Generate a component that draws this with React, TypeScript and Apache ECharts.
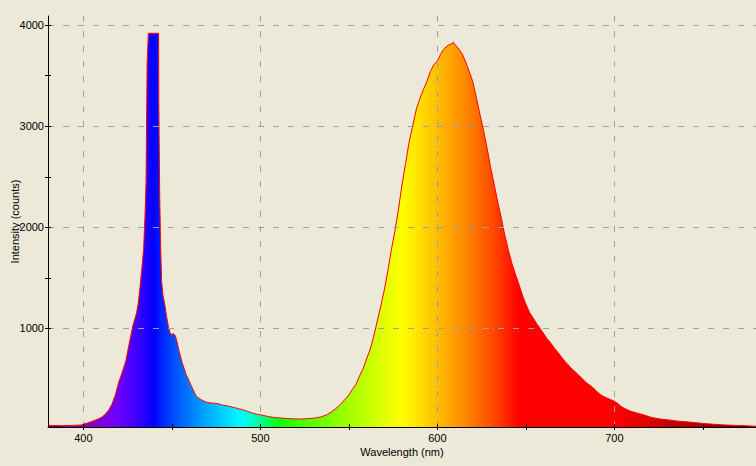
import React, { useEffect, useRef } from "react";
import * as echarts from "echarts";

const wavelengths = [
  380, 384, 388, 392, 396, 399, 400, 402, 404, 406, 408, 410, 412, 414, 416, 418, 420, 422, 424, 426, 428, 430, 431, 432, 433, 434, 434.8, 435.4, 436, 436.7,
  442.5, 442.6, 443.1, 443.6, 444.2, 445, 446, 447, 448, 449, 450, 451, 452, 453, 454, 455, 456, 457, 458, 459, 460, 461, 462, 463, 464, 466, 468, 470, 472, 474,
  476, 478, 480, 482, 484, 486, 488, 490, 492, 494, 496, 498, 500, 502, 504, 506, 508, 510, 512, 514, 516, 518, 520, 522, 524, 526, 528, 530, 532, 534,
  536, 538, 540, 542, 544, 546, 548, 550, 552, 554, 556, 558, 560, 562, 564, 566, 568, 570, 572, 574, 576, 578, 580, 582, 584, 586, 588, 590, 592, 594,
  596, 598, 600, 602, 604, 606, 608, 609, 610, 612, 614, 616, 618, 620, 622, 624, 626, 628, 630, 632, 634, 636, 638, 640, 642, 644, 646, 648, 650, 652,
  654, 656, 658, 660, 662, 664, 666, 668, 670, 672, 674, 676, 678, 680, 682, 684, 686, 688, 690, 692, 694, 696, 698, 700, 702, 704, 706, 708, 710, 712,
  714, 716, 718, 720, 722, 724, 726, 728, 730, 732, 734, 736, 738, 740, 742, 744, 746, 748, 750, 752, 754, 756, 758, 760, 762, 764, 766, 768, 770, 772,
  774, 776, 778, 780,
];

const intensities = [
  40, 40, 38, 40, 42, 45, 55, 63, 75, 88, 102, 118, 145, 185, 245, 340, 470, 570, 680, 860, 1030, 1150, 1250, 1410, 1590, 1780, 2107, 2437, 3622, 3919,
  3919, 3227, 2338, 1827, 1464, 1320, 1234, 1120, 1020, 955, 940, 948, 925, 860, 780, 715, 650, 600, 545, 510, 470, 430, 395, 355, 325, 300, 282, 268, 262, 260,
  256, 246, 236, 232, 223, 214, 204, 196, 184, 171, 160, 152, 146, 138, 130, 124, 119, 116, 113, 110, 108, 106, 105, 104, 105, 107, 108, 112, 117, 124,
  136, 150, 173, 198, 228, 262, 302, 342, 398, 445, 530, 600, 700, 790, 920, 1070, 1220, 1380, 1570, 1780, 1960, 2180, 2420, 2630, 2840, 3000, 3160, 3270, 3360, 3440,
  3540, 3610, 3645, 3720, 3770, 3800, 3815, 3830, 3805, 3765, 3715, 3635, 3540, 3440, 3285, 3120, 2965, 2790, 2600, 2430, 2260, 2100, 1930, 1780, 1650, 1540, 1440, 1330, 1240, 1160,
  1105, 1050, 1000, 950, 898, 855, 808, 765, 720, 675, 638, 600, 568, 535, 500, 465, 440, 412, 378, 346, 326, 310, 295, 280, 255, 226, 206, 190, 176, 167,
  157, 148, 137, 125, 116, 110, 104, 100, 96, 92, 87, 83, 80, 77, 74, 71, 68, 64, 60, 58, 55, 52, 50, 48, 46, 44, 42, 41, 40, 39,
  38, 36, 34, 32,
];

const xLabelValues = [400, 500, 600, 700];
const xTickValues = [400, 450, 500, 550, 600, 650, 700, 750];
const yLabelValues = [1000, 2000, 3000, 4000];
const yTickValues = [1000, 1500, 2000, 2500, 3000, 3500, 4000];

const X_MIN = 380;
const X_MAX = 780;
const Y_MIN = 25;
const Y_MAX = 4090;

const FONT = "Liberation Sans";
const BG = "#ECE9D8";

function wavelengthColor(w: number): string {
  let r = 0, g = 0, b = 0;
  if (w < 440) { r = -(w - 440) / 60; b = 1; }
  else if (w < 490) { g = (w - 440) / 50; b = 1; }
  else if (w < 510) { g = 1; b = -(w - 510) / 20; }
  else if (w < 580) { r = (w - 510) / 70; g = 1; }
  else if (w < 645) { r = 1; g = -(w - 645) / 65; }
  else { r = 1; }
  let f = 1;
  if (w < 420) f = 0.3 + (0.7 * (w - 380)) / 40;
  else if (w > 700) f = 0.3 + (0.7 * (780 - w)) / 80;
  const c = (v: number) => Math.round(255 * Math.pow(Math.max(0, v * f), 0.8));
  return `rgb(${c(r)},${c(g)},${c(b)})`;
}

function gradientStops() {
  const stops: { offset: number; color: string }[] = [];
  for (let w = X_MIN; w <= X_MAX; w += 4) {
    stops.push({ offset: (w - X_MIN) / (X_MAX - X_MIN), color: wavelengthColor(w) });
  }
  return stops;
}

export default function App() {
  const ref = useRef<HTMLDivElement>(null);

  useEffect(() => {
    document.body.style.margin = "0";
    document.body.style.background = BG;
    if (!ref.current) return;
    const chart = echarts.init(ref.current, undefined, { renderer: "svg" });

    const data = wavelengths.map((w, i) => [w, intensities[i]]);
    const labelStyle = { fontFamily: FONT, fontSize: 11, color: "#000" };
    const dashed = { color: "#A0A0A0", type: [6, 9] as any, width: 1 };
    const plain = (v: number) => String(v);

    const baseX = { type: "value", min: X_MIN, max: X_MAX, position: "bottom" };
    const baseY = { type: "value", min: Y_MIN, max: Y_MAX, position: "left" };

    const option: any = {
      animation: false,
      backgroundColor: BG,
      grid: { left: 48, right: 0, top: 16, bottom: 39, containLabel: false, outerBoundsMode: "none" },
      xAxis: [
        {
          ...baseX,
          z: 4,
          name: "Wavelength (nm)",
          nameLocation: "middle",
          nameGap: 19,
          nameMoveOverlap: false,
          nameTextStyle: labelStyle,
          axisLine: { show: true, onZero: false, lineStyle: { color: "#000", width: 1 } },
          axisTick: { show: true, customValues: xTickValues, length: 3, inside: false, lineStyle: { color: "#000" } },
          axisLabel: { show: true, customValues: xLabelValues, margin: 5, formatter: plain, ...labelStyle },
          splitLine: { show: false },
        },
        {
          ...baseX,
          z: 4,
          axisLine: { show: false, onZero: false },
          axisTick: { show: true, customValues: xTickValues, length: 3, inside: true, lineStyle: { color: "#000" } },
          axisLabel: { show: false },
          splitLine: { show: false },
        },
        {
          ...baseX,
          z: 3,
          axisLine: { show: false, onZero: false },
          axisTick: { show: false, customValues: xLabelValues },
          axisLabel: { show: false },
          splitLine: { show: true, lineStyle: dashed },
        },
      ],
      yAxis: [
        {
          ...baseY,
          z: 4,
          name: "Intensity (counts)",
          nameLocation: "middle",
          nameGap: 28,
          nameRotate: 90,
          nameMoveOverlap: false,
          nameTextStyle: labelStyle,
          axisLine: { show: true, onZero: false, lineStyle: { color: "#000", width: 1 } },
          axisTick: { show: true, customValues: yTickValues, length: 3, inside: false, lineStyle: { color: "#000" } },
          axisLabel: { show: true, customValues: yLabelValues, margin: 4, formatter: plain, ...labelStyle },
          splitLine: { show: false },
        },
        {
          ...baseY,
          z: 4,
          axisLine: { show: false, onZero: false },
          axisTick: { show: true, customValues: yTickValues, length: 3, inside: true, lineStyle: { color: "#000" } },
          axisLabel: { show: false },
          splitLine: { show: false },
        },
        {
          ...baseY,
          z: 3,
          axisLine: { show: false, onZero: false },
          axisTick: { show: false, customValues: yLabelValues },
          axisLabel: { show: false },
          splitLine: { show: true, lineStyle: dashed },
        },
      ],
      series: [
        {
          type: "line",
          xAxisIndex: 0,
          yAxisIndex: 0,
          data,
          symbol: "none",
          z: 2,
          lineStyle: { color: "#FF0000", width: 1 },
          areaStyle: {
            opacity: 1,
            color: new echarts.graphic.LinearGradient(0, 0, 1, 0, gradientStops()),
          },
        },
      ],
    };

    chart.setOption(option);
    return () => chart.dispose();
  }, []);

  return <div ref={ref} style={{ width: 756, height: 466 }} />;
}
